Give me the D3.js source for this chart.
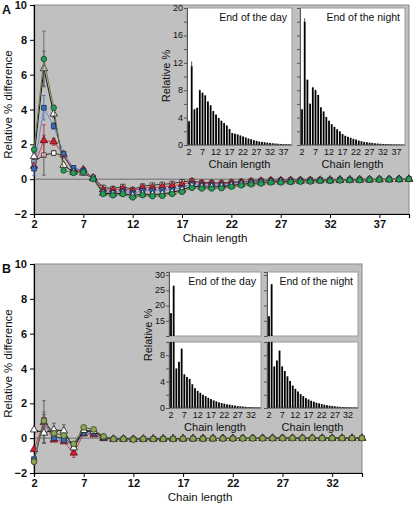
<!DOCTYPE html>
<html><head><meta charset="utf-8">
<script src="https://cdn.jsdelivr.net/npm/d3@7"></script>
<style>
body{margin:0;background:#fff}
svg{display:block}
text{font-family:"Liberation Sans",Arial,Helvetica,sans-serif;fill:#111}
</style>
</head><body>
<svg id="c" width="415" height="509"></svg>
<script>
// ---------------- DATA ----------------
// Panel A main chart: chain length 2..40
const chainA = [2,3,4,5,6,7,8,9,10,11,12,13,14,15,16,17,18,19,20,21,22,23,24,25,26,27,28,29,30,31,32,33,34,35,36,37,38,39,40];
const aGreen = [1.7,6.9,4.1,0.5,0.35,0.4,0.0,-0.85,-0.93,-0.86,-1.05,-0.92,-0.98,-0.96,-0.85,-0.73,-0.5,-0.54,-0.54,-0.52,-0.44,-0.36,-0.3,-0.25,-0.19,-0.19,-0.17,-0.15,-0.14,-0.1,-0.1,-0.08,-0.06,-0.06,-0.03,-0.03,-0.02,-0.02,0.0];
const aWhiteTri = [1.3,6.35,3.75,0.8,0.4,0.35,0.05,-0.8,-0.85,-0.8,-0.95,-0.85,-0.88,-0.85,-0.75,-0.62,-0.4,-0.45,-0.45,-0.43,-0.37,-0.3,-0.25,-0.2,-0.16,-0.15,-0.14,-0.12,-0.11,-0.08,-0.08,-0.06,-0.05,-0.05,-0.03,-0.02,-0.02,-0.01,0.0];
const aBlue = [0.6,4.1,3.05,1.47,0.65,0.5,0.05,-0.72,-0.78,-0.69,-0.8,-0.67,-0.66,-0.63,-0.6,-0.5,-0.28,-0.35,-0.35,-0.34,-0.3,-0.25,-0.19,-0.15,-0.12,-0.12,-0.11,-0.1,-0.09,-0.07,-0.07,-0.05,-0.04,-0.04,-0.03,-0.02,-0.02,-0.01,0.0];
const aRed = [0.75,2.22,2.15,1.4,0.55,0.55,0.08,-0.6,-0.63,-0.54,-0.67,-0.5,-0.48,-0.44,-0.38,-0.3,-0.15,-0.25,-0.25,-0.27,-0.22,-0.18,-0.14,-0.11,-0.08,-0.08,-0.07,-0.06,-0.06,-0.05,-0.04,-0.03,-0.03,-0.02,-0.02,-0.01,-0.01,0.0,0.0];
const aWhiteSq = [1.0,1.38,1.5,1.35,0.45,0.5,0.1,-0.47,-0.54,-0.42,-0.6,-0.4,-0.34,-0.3,-0.25,-0.15,-0.1,-0.2,-0.2,-0.22,-0.17,-0.14,-0.1,-0.08,-0.06,-0.06,-0.05,-0.05,-0.04,-0.04,-0.03,-0.02,-0.02,-0.01,-0.01,0.0,0.0,0.0,0.0];
// error bars (first points only; the rest are negligible)
const aGreenErr = [0.15,1.6,0.15,0.08,0.05,0.05,0.05,0.08];
const aWhiteTriErr = [0.2,1.0,0.2,0.1,0.05,0.05,0.05,0.05];
const aBlueErr = [0.4,0.7,0.2,0.1,0.08,0.05,0.05,0.05];
const aRedErr = [0.2,0.9,0.2,0.1,0.08,0.05,0.05,0.05];
const aWhiteSqErr = [0.3,1.15,0.15,0.1,0.05,0.05,0.05,0.05];

// Panel A insets: chain length 2..39
const insetChainA = [2,3,4,5,6,7,8,9,10,11,12,13,14,15,16,17,18,19,20,21,22,23,24,25,26,27,28,29,30,31,32,33,34,35,36,37,38,39];
const aDay = [3.45,11.5,5.2,5.4,8.0,7.6,7.25,6.35,5.8,4.95,4.45,3.95,3.55,3.2,2.85,2.35,1.75,1.65,1.55,1.4,1.25,1.1,0.95,0.85,0.7,0.6,0.5,0.45,0.4,0.35,0.3,0.25,0.22,0.18,0.15,0.12,0.1,0.08];
const aNight = [5.2,18.0,9.5,6.0,8.4,8.0,7.3,5.5,4.9,4.1,3.55,3.05,2.65,2.3,2.0,1.6,1.35,1.2,1.05,0.9,0.8,0.65,0.55,0.45,0.4,0.35,0.3,0.25,0.22,0.18,0.15,0.13,0.11,0.09,0.07,0.06,0.05,0.04];
const aDayErr = [0.1,0.7,0.1,0.1,0.1,0.1];
const aNightErr = [0.1,0.5,0.1,0.1,0.1,0.1];

// Panel B main chart: chain length 2..35
const chainB = [2,3,4,5,6,7,8,9,10,11,12,13,14,15,16,17,18,19,20,21,22,23,24,25,26,27,28,29,30,31,32,33,34,35];
const bOlive = [-1.35,1.0,0.28,0.15,-0.33,0.62,0.5,0.1,-0.05,-0.05,-0.08,-0.05,-0.05,-0.05,-0.05,-0.03,-0.03,-0.03,-0.02,-0.02,-0.02,-0.02,-0.01,-0.01,-0.01,-0.01,0.0,0.0,0.0,0.0,0.0,0.0,0.0,0.0];
const bWhiteTri = [0.48,0.3,0.48,0.42,-0.55,0.45,0.4,0.05,-0.05,-0.04,-0.06,-0.04,-0.04,-0.04,-0.03,-0.03,-0.02,-0.02,-0.02,-0.02,-0.01,-0.01,-0.01,-0.01,0.0,0.0,0.0,0.0,0.0,0.0,0.0,0.0,0.0,0.0];
const bBlue = [-1.2,0.95,0.0,-0.1,-0.5,0.3,0.3,0.0,-0.05,-0.05,-0.07,-0.05,-0.05,-0.04,-0.04,-0.03,-0.03,-0.02,-0.02,-0.02,-0.02,-0.01,-0.01,-0.01,-0.01,0.0,0.0,0.0,0.0,0.0,0.0,0.0,0.0,0.0];
const bRed = [-0.65,0.9,-0.1,-0.2,-0.85,0.25,0.2,-0.02,-0.06,-0.05,-0.06,-0.05,-0.04,-0.04,-0.03,-0.03,-0.02,-0.02,-0.02,-0.01,-0.01,-0.01,-0.01,0.0,0.0,0.0,0.0,0.0,0.0,0.0,0.0,0.0,0.0,0.0];
const bWhiteSq = [-1.25,1.05,0.1,0.0,-0.4,0.4,0.35,0.05,-0.04,-0.04,-0.05,-0.04,-0.04,-0.03,-0.03,-0.02,-0.02,-0.02,-0.01,-0.01,-0.01,-0.01,0.0,0.0,0.0,0.0,0.0,0.0,0.0,0.0,0.0,0.0,0.0,0.0];
const bOliveErr = [0.15,0.5,0.15,0.1,0.1,0.08,0.08];
const bWhiteTriErr = [0.1,0.6,0.38,0.35,0.1,0.1,0.1];
const bBlueErr = [0.1,1.2,0.1,0.1,0.1,0.08,0.08];
const bRedErr = [0.1,0.3,0.1,0.1,0.25,0.08,0.08];
const bWhiteSqErr = [0.1,0.3,0.1,0.1,0.1,0.08,0.08];

// Panel B insets: chain length 2..35
const insetChainB = chainB;
const bDay = [17.5,26.5,6.0,7.0,9.0,5.1,4.7,4.4,3.6,3.0,2.6,2.3,2.0,1.8,1.55,1.35,1.15,1.0,0.85,0.75,0.65,0.55,0.5,0.42,0.36,0.3,0.26,0.22,0.18,0.15,0.12,0.1,0.08,0.06];
const bNight = [16.5,27.0,6.3,7.2,8.7,6.3,5.6,4.8,4.1,3.4,2.9,2.5,2.1,1.8,1.5,1.3,1.1,0.95,0.8,0.7,0.6,0.5,0.42,0.36,0.3,0.25,0.21,0.17,0.14,0.12,0.1,0.08,0.06,0.05];

const mainYTicks = [-2,0,2,4,6,8,10];
const xTicksA = [2,7,12,17,22,27,32,37];
const xTicksB = [2,7,12,17,22,27,32];
const insetXTicksA = [2,7,12,17,22,27,32,37];
const insetXTicksB = [2,7,12,17,22,27,32];
const insetYTicksA = [0,4,8,12,16,20];
const insetYTicksBLow = [0,4,8];
const insetYTicksBHigh = [15,20,25,30];

// ---------------- DRAWING ----------------
const svg = d3.select("#c");
const BG = "#c0c0c0";

function drawMain(cfg){
  const g = svg.append("g");
  const x = d3.scaleLinear().domain(cfg.xDomain).range([cfg.left, cfg.right]);
  const y = d3.scaleLinear().domain([-2,10]).range([cfg.bottom, cfg.top]);
  g.append("rect").attr("x",cfg.left).attr("y",cfg.top)
    .attr("width",cfg.right-cfg.left).attr("height",cfg.bottom-cfg.top)
    .attr("fill",BG).attr("stroke","#8a8a8a").attr("stroke-width",1);
  g.append("line").attr("x1",cfg.left).attr("x2",cfg.right)
    .attr("y1",y(0)).attr("y2",y(0)).attr("stroke","#555").attr("stroke-width",0.8);
  const ya = g.append("g").attr("transform",`translate(${cfg.left},0)`)
    .call(d3.axisLeft(y).tickValues(mainYTicks).tickSize(4).tickPadding(3).tickFormat(d3.format("d")));
  const xa = g.append("g").attr("transform",`translate(0,${cfg.bottom})`)
    .call(d3.axisBottom(x).tickValues(cfg.xTicks).tickSize(4).tickPadding(2).tickFormat(d3.format("d")));
  [ya,xa].forEach(a=>{
    a.select(".domain").attr("stroke","#000").attr("stroke-width",1.2);
    a.selectAll(".tick line").attr("stroke","#000");
    a.selectAll("text").attr("font-size",11).attr("font-weight","bold")
      .attr("font-family",'"Liberation Sans",Arial,sans-serif').attr("fill","#111");
  });
  g.append("text").attr("transform",`translate(${cfg.left-22},${(cfg.top+cfg.bottom)/2-5}) rotate(-90)`)
    .attr("text-anchor","middle").attr("font-size",11.5).text("Relative % difference");
  g.append("text").attr("x",cfg.titleX).attr("y",cfg.bottom+28)
    .attr("text-anchor","middle").attr("font-size",11.5).text("Chain length");
  g.append("text").attr("x",2).attr("y",cfg.top+9).attr("font-size",12.5)
    .attr("font-weight","bold").text(cfg.label);
  return {g,x,y};
}

function drawSeries(p, chain, s){
  const pts = chain.map((c,i)=>({c, v:s.values[i], e:(s.err && s.err[i])||0}));
  const line = d3.line().x(d=>p.x(d.c)).y(d=>p.y(d.v));
  const sg = p.g.append("g");
  sg.selectAll("line.err").data(pts.filter(d=>d.e>0)).join("line")
    .attr("x1",d=>p.x(d.c)).attr("x2",d=>p.x(d.c))
    .attr("y1",d=>p.y(d.v-d.e)).attr("y2",d=>p.y(d.v+d.e))
    .attr("stroke",s.errColor||"#555").attr("stroke-width",0.9);
  sg.selectAll("line.cap").data(pts.filter(d=>d.e>0.12).flatMap(d=>[{c:d.c,v:d.v+d.e},{c:d.c,v:d.v-d.e}])).join("line")
    .attr("x1",d=>p.x(d.c)-1.8).attr("x2",d=>p.x(d.c)+1.8)
    .attr("y1",d=>p.y(d.v)).attr("y2",d=>p.y(d.v))
    .attr("stroke",s.errColor||"#555").attr("stroke-width",0.9);
  sg.append("path").datum(pts).attr("d",line).attr("fill","none")
    .attr("stroke",s.lineColor).attr("stroke-width",1);
  sg.selectAll("path.m").data(pts).join("path")
    .attr("transform",d=>`translate(${p.x(d.c)},${p.y(d.v)})`)
    .attr("d",d3.symbol().type(s.symbol).size(s.size||22))
    .attr("fill",s.fill).attr("stroke",s.stroke).attr("stroke-width",0.8);
}

function drawInset(cfg){
  const g = svg.append("g");
  const x = d3.scaleLinear().domain(cfg.xDomain).range([cfg.x0+cfg.pad, cfg.x1-cfg.padR]);
  const segs = cfg.segments;
  segs.forEach(sg=>{
    const y = d3.scaleLinear().domain(sg.domain).range([sg.bottom, sg.top]);
    g.append("rect").attr("x",cfg.x0).attr("y",sg.top).attr("width",cfg.x1-cfg.x0)
      .attr("height",sg.bottom-sg.top).attr("fill","#fff").attr("stroke","#9a9a9a").attr("stroke-width",1);
    const data = cfg.chain.map((c,i)=>({c,v:cfg.values[i],e:(cfg.err&&cfg.err[i])||0}))
      .filter(d=>d.v>sg.domain[0]);
    g.selectAll(null).data(data).join("rect")
      .attr("x",d=>x(d.c)-0.9).attr("width",1.8)
      .attr("y",d=>y(Math.min(d.v,sg.domain[1])))
      .attr("height",d=>y(sg.domain[0])-y(Math.min(d.v,sg.domain[1])))
      .attr("fill","#000");
    g.selectAll(null).data(data.filter(d=>d.e>0 && d.v<=sg.domain[1])).join("line")
      .attr("x1",d=>x(d.c)).attr("x2",d=>x(d.c)).attr("y1",d=>y(d.v)).attr("y2",d=>y(d.v+d.e))
      .attr("stroke","#000").attr("stroke-width",0.7);
    const ax = g.append("g").attr("transform",`translate(${cfg.x0},0)`)
      .call(d3.axisLeft(y).tickValues(sg.minor).tickSize(3).tickFormat(""));
    ax.select(".domain").attr("stroke","#555");
    ax.selectAll(".tick line").attr("stroke","#555");
    if(cfg.showYLabels){
      g.selectAll(null).data(sg.ticks).join("text")
        .attr("x",cfg.x0-4).attr("y",d=>y(d)).attr("dy","0.33em").attr("text-anchor","end")
        .attr("font-size",9).attr("fill","#222").text(d=>d);
    }
  });
  const bottom = segs[segs.length-1].bottom;
  g.append("line").attr("x1",cfg.x0).attr("x2",cfg.x1).attr("y1",bottom).attr("y2",bottom)
    .attr("stroke","#555");
  g.selectAll(null).data(cfg.xTicks).join("text")
    .attr("x",d=>x(d)).attr("y",bottom+10).attr("text-anchor","middle")
    .attr("font-size",9).attr("fill","#222").text(d=>d);
  g.append("text").attr("x",(cfg.x0+cfg.x1)/2).attr("y",bottom+23).attr("text-anchor","middle")
    .attr("font-size",11).text("Chain length");
  g.append("text").attr("x",cfg.x1-5).attr("y",segs[0].top+13).attr("text-anchor","end")
    .attr("font-size",10.5).text(cfg.title);
  if(cfg.showYLabels){
    g.append("text").attr("transform",`translate(${cfg.x0-17},${cfg.yTitleY}) rotate(-90)`)
      .attr("text-anchor","middle").attr("font-size",11).text("Relative %");
  }
}

// ---------- Panel A ----------
const pA = drawMain({left:34,right:409,top:5,bottom:214,xDomain:[2,40],xTicks:xTicksA,label:"A",titleX:215});
const seriesA = [
  {values:aWhiteSq, err:aWhiteSqErr, symbol:d3.symbolSquare, fill:"#fff", stroke:"#222", lineColor:"#333", size:20},
  {values:aRed, err:aRedErr, symbol:d3.symbolTriangle, fill:"#d0202e", stroke:"#5a0a10", lineColor:"#c8404e", errColor:"#c03040", size:24},
  {values:aBlue, err:aBlueErr, symbol:d3.symbolSquare, fill:"#3b6db6", stroke:"#1c2f5c", lineColor:"#6a8cc8", errColor:"#4a6fb0", size:22},
  {values:aWhiteTri, err:aWhiteTriErr, symbol:d3.symbolTriangle, fill:"#fff", stroke:"#111", lineColor:"#111", size:24},
  {values:aGreen, err:aGreenErr, symbol:d3.symbolCircle, fill:"#22a05a", stroke:"#1b3d22", lineColor:"#6f7a45", errColor:"#666", size:24}
];
seriesA.forEach(s=>drawSeries(pA, chainA, s));

drawInset({x0:187,x1:292,pad:2,padR:3,xDomain:[2,39],chain:insetChainA,values:aDay,err:aDayErr,
  segments:[{domain:[0,20],top:8,bottom:145,ticks:insetYTicksA,minor:[0,2,4,6,8,10,12,14,16,18,20]}],
  xTicks:insetXTicksA,title:"End of the day",showYLabels:true,yTitleY:76});
drawInset({x0:300,x1:405,pad:2,padR:3,xDomain:[2,39],chain:insetChainA,values:aNight,err:aNightErr,
  segments:[{domain:[0,20],top:8,bottom:145,ticks:insetYTicksA,minor:[0,2,4,6,8,10,12,14,16,18,20]}],
  xTicks:insetXTicksA,title:"End of the night",showYLabels:false});

// ---------- Panel B ----------
const pB = drawMain({left:34,right:362,top:264,bottom:473,xDomain:[2,35],xTicks:xTicksB,label:"B",titleX:200});
const seriesB = [
  {values:bWhiteSq, err:bWhiteSqErr, symbol:d3.symbolSquare, fill:"#fff", stroke:"#222", lineColor:"#333", size:20},
  {values:bRed, err:bRedErr, symbol:d3.symbolTriangle, fill:"#d0202e", stroke:"#5a0a10", lineColor:"#c8404e", errColor:"#c03040", size:24},
  {values:bBlue, err:bBlueErr, symbol:d3.symbolSquare, fill:"#3b6db6", stroke:"#1c2f5c", lineColor:"#6a8cc8", errColor:"#555", size:22},
  {values:bWhiteTri, err:bWhiteTriErr, symbol:d3.symbolTriangle, fill:"#fff", stroke:"#111", lineColor:"#111", size:24},
  {values:bOlive, err:bOliveErr, symbol:d3.symbolCircle, fill:"#8fa454", stroke:"#35421a", lineColor:"#55603a", errColor:"#666", size:26}
];
seriesB.forEach(s=>drawSeries(pB, chainB, s));

const bSegs = () => [
  {domain:[10,31],top:272,bottom:336,ticks:insetYTicksBHigh,minor:[15,20,25,30]},
  {domain:[0,10],top:342,bottom:408,ticks:insetYTicksBLow,minor:[0,2,4,6,8,10]}
];
drawInset({x0:169,x1:261,pad:2,padR:2,xDomain:[2,35],chain:insetChainB,values:bDay,
  segments:bSegs(),xTicks:insetXTicksB,title:"End of the day",showYLabels:true,yTitleY:335});
drawInset({x0:267,x1:358,pad:2,padR:2,xDomain:[2,35],chain:insetChainB,values:bNight,
  segments:bSegs(),xTicks:insetXTicksB,title:"End of the night",showYLabels:false});
</script>
</body></html>
